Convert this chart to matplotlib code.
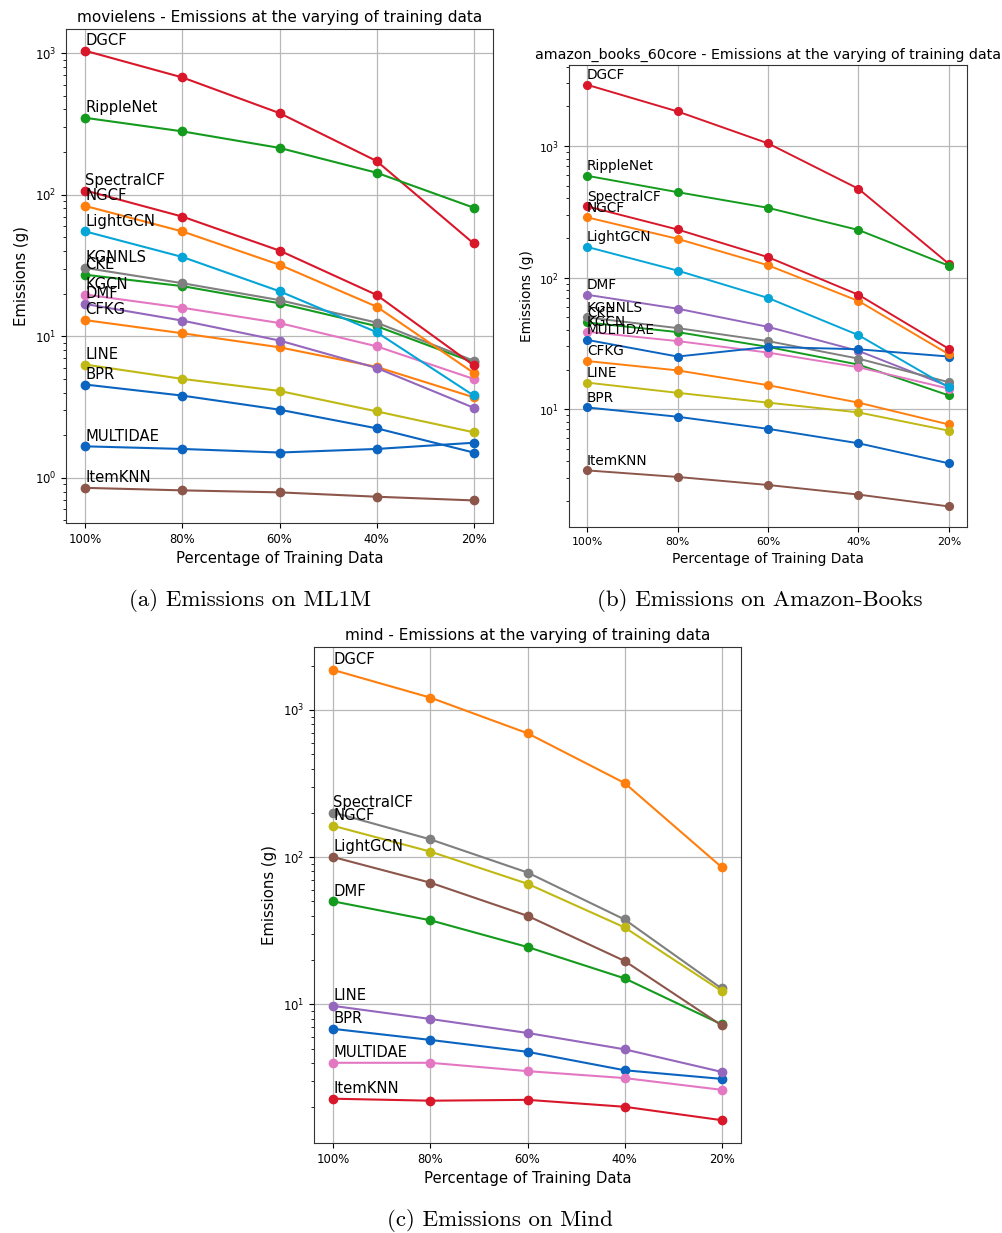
import numpy as np
import matplotlib
matplotlib.use("Agg")
import matplotlib.pyplot as plt

pct = ["100%", "80%", "60%", "40%", "20%"]

# colours seen in the picture (tab10-like, a bit more saturated)
C = {"blue": "#0a64c0", "orange": "#ff7f0e", "green": "#149b1e", "red": "#d8182a",
     "purple": "#9467bd", "brown": "#8c564b", "pink": "#e377c2", "gray": "#7f7f7f",
     "olive": "#c0b814", "cyan": "#05a5d8"}

# (a) movielens
ml_names = ["BPR", "CFKG", "CKE", "DGCF", "DMF", "ItemKNN", "KGCN", "KGNNLS",
            "LINE", "LightGCN", "MULTIDAE", "NGCF", "RippleNet", "SpectralCF"]
ml_colors = ["blue", "orange", "green", "red", "purple", "brown", "pink", "gray",
             "olive", "cyan", "blue", "orange", "green", "red"]
ml_vals = [
    [4.56, 3.81, 3.03, 2.24, 1.51],
    [13.0, 10.5, 8.36, 6.08, 3.71],
    [27.2, 22.6, 17.1, 11.8, 6.55],
    [1038, 673, 377, 173, 45.3],
    [16.9, 12.9, 9.33, 5.98, 3.13],
    [0.85, 0.816, 0.79, 0.736, 0.693],
    [19.7, 15.9, 12.4, 8.5, 5.0],
    [30.4, 23.7, 18.0, 12.5, 6.72],
    [6.31, 5.0, 4.11, 2.95, 2.1],
    [55.0, 36.3, 20.8, 10.7, 3.82],
    [1.67, 1.6, 1.51, 1.6, 1.77],
    [83.2, 55.0, 32.0, 16.2, 5.52],
    [349, 280, 214, 143, 81],
    [107, 70, 40.3, 19.6, 6.24],
]

# (b) amazon_books_60core
ab_names = ml_names
ab_colors = ml_colors
ab_vals = [
    [10.3, 8.75, 7.08, 5.5, 3.87],
    [23.2, 19.7, 15.2, 11.2, 7.64],
    [45.6, 38.5, 29.7, 21.8, 12.7],
    [2922, 1832, 1048, 473, 127],
    [74, 58, 42.2, 27.7, 14.9],
    [3.42, 3.05, 2.65, 2.24, 1.82],
    [38.7, 32.9, 26.9, 20.8, 14.3],
    [49.8, 41.3, 32.9, 24.2, 16.0],
    [15.9, 13.3, 11.2, 9.44, 6.85],
    [171, 113, 70, 36.5, 14.6],
    [33.6, 25.1, 29.7, 28.5, 25.1],
    [287, 197, 124, 66.4, 26.1],
    [594, 446, 339, 230, 123],
    [348, 232, 143, 74, 28.7],
]

# (c) mind
mi_names = ["BPR", "DGCF", "DMF", "ItemKNN", "LINE", "LightGCN", "MULTIDAE",
            "SpectralCF", "NGCF"]
mi_colors = ["blue", "orange", "green", "red", "purple", "brown", "pink",
             "gray", "olive"]
mi_vals = [
    [6.8, 5.72, 4.75, 3.56, 3.11],
    [1870, 1213, 695, 319, 85.5],
    [50, 37.2, 24.5, 15.0, 7.3],
    [2.28, 2.21, 2.24, 2.01, 1.63],
    [9.74, 7.94, 6.38, 4.94, 3.47],
    [100, 67, 39.9, 19.7, 7.19],
    [4.0, 4.0, 3.51, 3.15, 2.62],
    [201, 132, 78.6, 37.7, 12.8],
    [163, 109, 65.9, 33.3, 12.3],
]

W, H = 1002, 1233
fig = plt.figure(figsize=(W / 100, H / 100), dpi=100)


def box(l, t, r, b):
    return [l / W, 1 - b / H, (r - l) / W, (b - t) / H]


def panel(rect, title, names, colors, vals, ylim, k=1.0):
    # k: how much this sub-image was scaled in the paper
    ax = fig.add_axes(box(*rect))
    x = np.arange(len(pct))
    for name, col, v in zip(names, colors, vals):
        ax.plot(x, v, "-o", color=C[col], lw=1.5 * k, ms=6 * k)
        ax.annotate(name, (x[0], v[0]), xytext=(0, 2 * k), textcoords="offset points",
                    fontsize=10.6 * k, ha="left", va="bottom")
    ax.set_yscale("log")
    ax.set_ylim(*ylim)
    ax.set_xticks(x)
    ax.set_xticklabels(pct)
    ax.tick_params(labelsize=8.4 * k)
    ax.grid(True, which="major", color="#b8b8b8", lw=0.9)
    ax.set_title(title, fontsize=11 * k, pad=5 * k)
    ax.set_xlabel("Percentage of Training Data", fontsize=10.7 * k)
    ax.set_ylabel("Emissions (g)", fontsize=10.7 * k)
    for s in ax.spines.values():
        s.set_color("#333333")
    return ax


panel((66, 29, 493, 523), "movielens - Emissions at the varying of training data",
      ml_names, ml_colors, ml_vals, (0.48, 1480))
panel((569, 65, 967, 527), "amazon_books_60core - Emissions at the varying of training data",
      ab_names, ab_colors, ab_vals, (1.27, 4130), k=0.93)
panel((314, 647, 741, 1143), "mind - Emissions at the varying of training data",
      mi_names, mi_colors, mi_vals, (1.14, 2680))

cap = dict(fontsize=16.5, family="cmr10", ha="center", va="center")
fig.text(250 / W, 1 - 601 / H, "(a) Emissions on ML1M", **cap)
fig.text(760 / W, 1 - 601 / H, "(b) Emissions on Amazon-Books", **cap)
fig.text(500 / W, 1 - 1221 / H, "(c) Emissions on Mind", **cap)

fig.savefig("out.png", dpi=100)
